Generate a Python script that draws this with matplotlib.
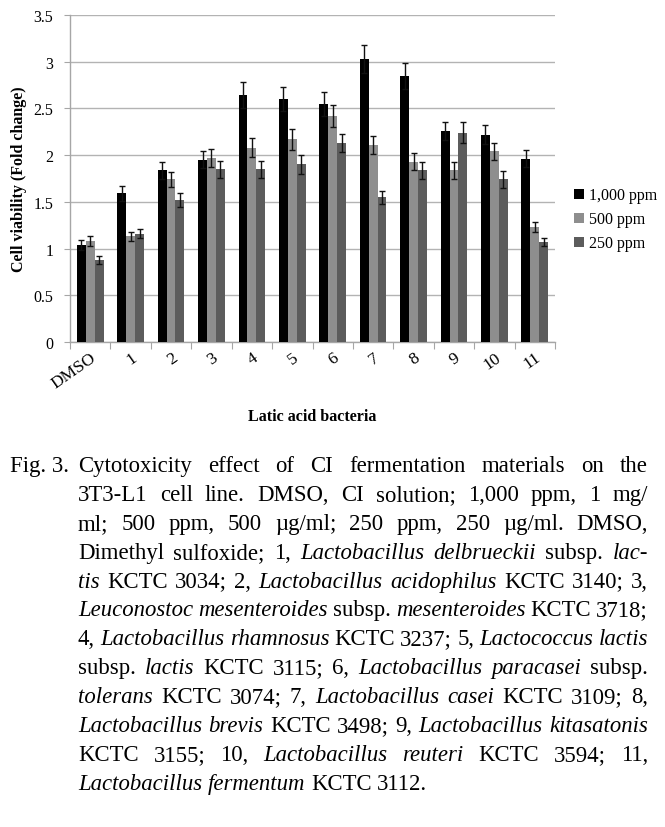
import matplotlib
matplotlib.use("Agg")
import matplotlib.pyplot as plt
import numpy as np

# ---------------- data ----------------
categories = ["DMSO", "1", "2", "3", "4", "5", "6", "7", "8", "9", "10", "11"]
series_names = ["1,000 ppm", "500 ppm", "250 ppm"]
ppm1000 = [1.04, 1.59, 1.84, 1.95, 2.64, 2.60, 2.55, 3.03, 2.85, 2.26, 2.22, 1.96]
ppm500 = [1.08, 1.13, 1.74, 1.97, 2.08, 2.17, 2.42, 2.11, 1.93, 1.84, 2.04, 1.23]
ppm250 = [0.88, 1.16, 1.52, 1.85, 1.85, 1.90, 2.13, 1.55, 1.84, 2.24, 1.74, 1.07]
err1000 = [0.05, 0.08, 0.09, 0.09, 0.14, 0.13, 0.13, 0.15, 0.14, 0.10, 0.10, 0.09]
err500 = [0.05, 0.05, 0.08, 0.10, 0.10, 0.11, 0.12, 0.10, 0.09, 0.09, 0.09, 0.05]
err250 = [0.04, 0.05, 0.08, 0.09, 0.09, 0.10, 0.10, 0.07, 0.09, 0.11, 0.09, 0.04]
yticks = [0, 0.5, 1, 1.5, 2, 2.5, 3, 3.5]
ytick_labels = ["0", "0.5", "1", "1.5", "2", "2.5", "3", "3.5"]
y_label = "Cell viability (Fold change)"
x_label = "Latic acid bacteria"

caption_head = "Fig. 3."
# each line: list of (text, italic) chunks; words split on spaces
caption_lines = [
    [("Cytotoxicity effect of CI fermentation materials on the", False)],
    [("3T3-L1 cell line. DMSO, CI solution; 1,000 ppm, 1 mg/", False)],
    [("ml; 500 ppm, 500 \u00b5g/ml; 250 ppm, 250 \u00b5g/ml. DMSO,", False)],
    [("Dimethyl sulfoxide; 1,", False), ("Lactobacillus delbrueckii", True), ("subsp.", False), ("lac-", True)],
    [("tis", True), ("KCTC 3034; 2,", False), ("Lactobacillus acidophilus", True), ("KCTC 3140; 3,", False)],
    [("Leuconostoc mesenteroides", True), ("subsp.", False), ("mesenteroides", True), ("KCTC 3718;", False)],
    [("4,", False), ("Lactobacillus rhamnosus", True), ("KCTC 3237; 5,", False), ("Lactococcus lactis", True)],
    [("subsp.", False), ("lactis", True), ("KCTC 3115; 6,", False), ("Lactobacillus paracasei", True), ("subsp.", False)],
    [("tolerans", True), ("KCTC 3074; 7,", False), ("Lactobacillus casei", True), ("KCTC 3109; 8,", False)],
    [("Lactobacillus brevis", True), ("KCTC 3498; 9,", False), ("Lactobacillus kitasatonis", True)],
    [("KCTC 3155; 10,", False), ("Lactobacillus reuteri", True), ("KCTC 3594; 11,", False)],
    [("Lactobacillus fermentum", True), ("KCTC 3112.", False)],
]

# ---------------- figure ----------------
W, H = 665, 828
fig = plt.figure(figsize=(W / 100, H / 100), dpi=100)
serif = "Liberation Serif"

ax = fig.add_axes([70 / W, 1 - 343 / H, (555 - 70) / W, (343 - 16) / H])
x = np.arange(len(categories))
bw = 0.22
colors = ["#000000", "#8e8e8e", "#5c5c5c"]
vals = [ppm1000, ppm500, ppm250]
errs = [err1000, err500, err250]
for i, (v, e, c, n) in enumerate(zip(vals, errs, colors, series_names)):
    ax.bar(x + (i - 1) * bw, v, bw, color=c, label=n, zorder=3,
           yerr=e, error_kw=dict(ecolor="#111111", elinewidth=1.0, capsize=2.5, capthick=1.0, zorder=4))

ax.set_xlim(-0.5, len(categories) - 0.5)
ax.set_ylim(0, 3.5)
ax.set_yticks(yticks)
ax.set_yticklabels(ytick_labels, family=serif, fontsize=11.5)
ax.yaxis.grid(True, color="#b3b3b3", lw=1.0, zorder=0)
ax.set_axisbelow(True)
for s in ["top", "right"]:
    ax.spines[s].set_visible(False)
for s in ["left", "bottom"]:
    ax.spines[s].set_color("#a6a6a6")
    ax.spines[s].set_linewidth(1.0)
ax.tick_params(axis="y", length=4, color="#a6a6a6", pad=8)
# x ticks at group boundaries, labels at group centres
ax.set_xticks(np.arange(len(categories) + 1) - 0.5)
ax.set_xticklabels([])
ax.tick_params(axis="x", length=5, color="#a6a6a6")
ax.set_xticks(x, minor=True)
ax.set_xticklabels(categories, minor=True, family=serif, fontsize=12.5,
                   rotation=35, ha="right", rotation_mode="anchor")
ax.tick_params(axis="x", which="minor", length=0, pad=5)

ax.set_ylabel(y_label, family=serif, fontsize=11.5, fontweight="bold", labelpad=5)
ax.set_xlabel(x_label, family=serif, fontsize=11.5, fontweight="bold", labelpad=12)

leg = ax.legend(loc="upper left", bbox_to_anchor=(568 / W, 1 - 182 / H), bbox_transform=fig.transFigure,
                frameon=False, prop={"family": serif, "size": 11.5},
                handlelength=0.6, handleheight=0.6, handletextpad=0.3, labelspacing=0.5, borderaxespad=0)

# ---------------- caption (justified) ----------------
renderer = fig.canvas.get_renderer()


def text_width(s, italic, fs):
    t = fig.text(0, 0, s, family=serif, fontsize=fs, style="italic" if italic else "normal")
    w = t.get_window_extent(renderer).width
    t.remove()
    return w


def line_words(line):
    words = []
    for chunk, it in line:
        for wd in chunk.split(" "):
            words.append((wd, it))
    return words


def natural(words, fs, space_factor=1.0):
    sp = text_width("a a", False, fs) - 2 * text_width("a", False, fs)
    return sum(text_width(w, it, fs) for w, it in words) + (len(words) - 1) * sp * space_factor


left, right = 78, 648
ref_fs = 10
# largest size at which every justified line still fits with at least ~0.9 of a normal space
fits = [ref_fs * (right - left) / natural(line_words(l), ref_fs, 0.9) for l in caption_lines[:-1]]
last = line_words(caption_lines[-1])
FS = min(min(fits), ref_fs * (445 - left) / natural(last, ref_fs))

base0 = 472
step = 28.9
fig.text(10 / W, 1 - base0 / H, caption_head, family=serif, fontsize=FS, va="baseline")
for li, line in enumerate(caption_lines):
    words = line_words(line)
    widths = [text_width(w, it, FS) for w, it in words]
    yb = base0 + li * step
    if li < len(caption_lines) - 1 and len(words) > 1:
        gap = (right - left - sum(widths)) / (len(words) - 1)
    else:
        gap = text_width("a a", False, FS) - 2 * text_width("a", False, FS)
    xc = left
    for (w, it), wd in zip(words, widths):
        fig.text(xc / W, 1 - yb / H, w, family=serif, fontsize=FS, va="baseline",
                 style="italic" if it else "normal")
        xc += wd + gap

fig.savefig("out.png", dpi=100)
